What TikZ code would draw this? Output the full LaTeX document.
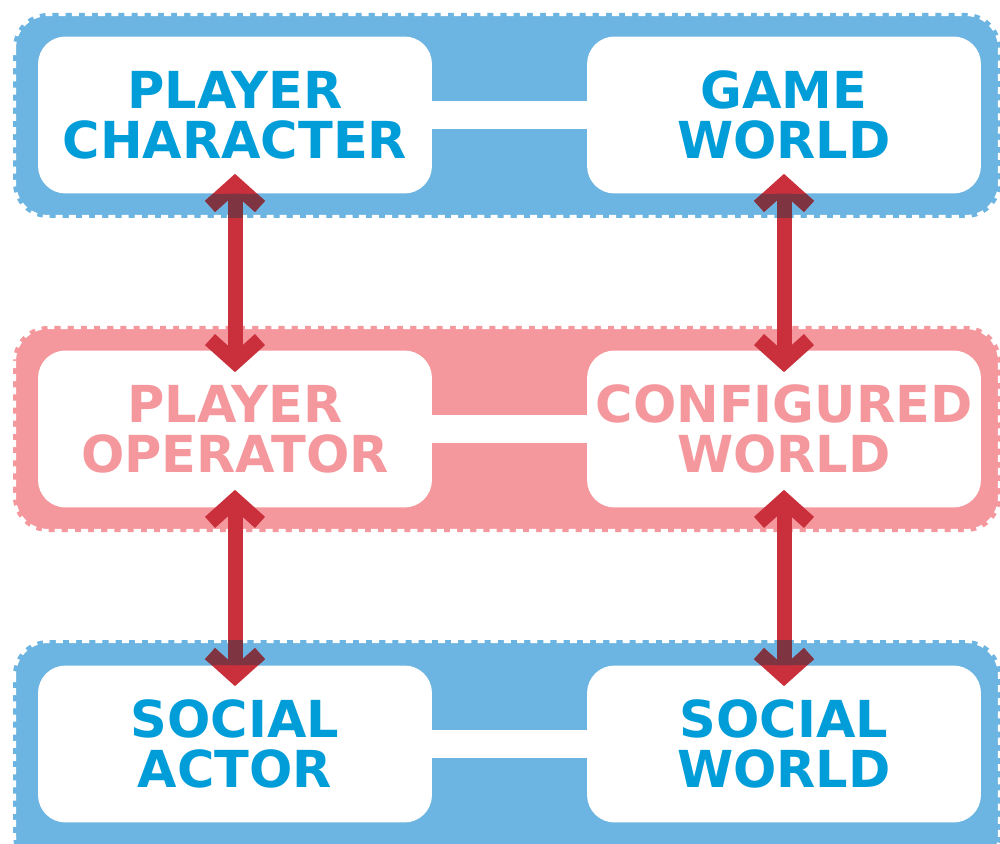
\documentclass[tikz,border=0pt]{standalone}
\usepackage{fontspec}
\setmainfont{DejaVu Sans}
\usetikzlibrary{arrows.meta}
\definecolor{bandblue}{HTML}{6CB4E1}
\definecolor{bandpink}{HTML}{F5989D}
\definecolor{txtblue}{HTML}{009DD9}
\definecolor{arrred}{HTML}{C9303B}
\definecolor{arrdark}{HTML}{7E3541}
\tikzset{
	box/.style={fill=white, rounded corners=0.55cm, minimum width=7.88cm, minimum height=3.14cm,
		align=center, inner sep=0pt, font=\fontsize{29}{28.5}\selectfont\bfseries},
	band/.style={rounded corners=0.7cm},
	perf/.style={draw=white, line width=3.5pt, dash pattern=on 4pt off 3.5pt},
	link/.style={white, line width=0.56cm},
	dbl/.style={line width=0.3cm, line join=miter,
		{Straight Barb[length=0.45cm,width=1.0cm]}-{Straight Barb[length=0.45cm,width=1.0cm]}}
}
\newcommand\allarrows[1]{%
	\foreach \u/\d in {pc/po, gw/cw}
	\draw[dbl, #1] ([yshift=0.4cm]\u.south) -- ([yshift=-0.44cm]\d.north);
	\foreach \u/\d in {po/sa, cw/sw}
	\draw[dbl, #1] ([yshift=0.36cm]\u.south) -- ([yshift=-0.42cm]\d.north);}
\begin{document}
\begin{tikzpicture}[x=0.02cm, y=-0.02cm]
	\clip (0,0) rectangle (1000,844);
	% bands
	\foreach \c/\t/\b in {bandblue/13/218, bandpink/326/532, bandblue/640/870}{
		\fill[\c, band] (13,\t) rectangle (1001,\b);
		\draw[perf, band] (13,\t) rectangle (1001,\b);
	}
	% boxes
	\node[box, text=txtblue] (pc) at (235,115) {PLAYER\\CHARACTER};
	\node[box, text=txtblue] (gw) at (784,115) {GAME\\WORLD};
	\node[box, text=bandpink] (po) at (235,429) {PLAYER\\OPERATOR};
	\node[box, text=bandpink] (cw) at (784,429) {CONFIGURED\\WORLD};
	\node[box, text=txtblue] (sa) at (235,744) {SOCIAL\\ACTOR};
	\node[box, text=txtblue] (sw) at (784,744) {SOCIAL\\WORLD};
	\foreach \a/\b in {pc/gw, po/cw, sa/sw}
	\draw[link] (\a.east) -- (\b.west);
	% arrows, darker where they cross the blue bands
	\allarrows{arrred}
	\begin{scope}[even odd rule]
		\clip (13,13) rectangle (1001,218)
		(pc.south west) rectangle (pc.north east) (gw.south west) rectangle (gw.north east)
		(13,640) rectangle (1001,870)
		(sa.south west) rectangle (sa.north east) (sw.south west) rectangle (sw.north east);
		\allarrows{arrdark}
	\end{scope}
\end{tikzpicture}
\end{document}
